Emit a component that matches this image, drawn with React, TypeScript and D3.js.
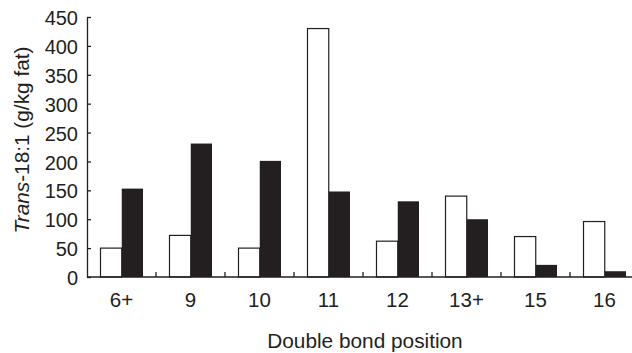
import React, { useEffect, useRef } from "react";
import * as d3 from "d3";

const positions = ["6+", "9", "10", "11", "12", "13+", "15", "16"];
const openValues = [50, 72, 50, 430, 62, 140, 70, 96];
const filledValues = [153, 231, 201, 148, 131, 100, 21, 10];
const yTicks = [0, 50, 100, 150, 200, 250, 300, 350, 400, 450];

const W = 632;
const H = 353;
const ink = "#231f20";
const font = "'Liberation Sans', Arial, sans-serif";

export default function App() {
  const ref = useRef<SVGSVGElement>(null);

  useEffect(() => {
    const svg = d3.select(ref.current);
    svg.selectAll("*").remove();

    const left = 87;
    const x = d3.scaleBand().domain(positions).range([left, left + 8 * 69]).padding(0);
    const inner = d3.scaleBand().domain(["open", "filled"]).range([13.5, 56]).padding(0);
    const y = d3.scaleLinear().domain([0, 450]).range([277, 17]);

    const rows = positions.map((p, i) => ({ p, open: openValues[i], filled: filledValues[i] }));

    // bars
    const groups = svg.append("g")
      .selectAll("g")
      .data(rows)
      .enter()
      .append("g")
      .attr("transform", (d) => `translate(${x(d.p)},0)`);

    groups.append("rect")
      .attr("x", inner("open")!)
      .attr("width", inner.bandwidth())
      .attr("y", (d) => y(d.open))
      .attr("height", (d) => y(0) - y(d.open))
      .attr("fill", "#fff")
      .attr("stroke", ink)
      .attr("stroke-width", 1.2);

    groups.append("rect")
      .attr("x", inner("filled")!)
      .attr("width", inner.bandwidth())
      .attr("y", (d) => y(d.filled))
      .attr("height", (d) => y(0) - y(d.filled))
      .attr("fill", ink);

    // y axis
    const yAxis = svg.append("g")
      .attr("transform", `translate(${left},0)`)
      .call(d3.axisLeft(y).tickValues(yTicks).tickSize(-4).tickSizeOuter(0).tickPadding(9));
    yAxis.select(".domain").attr("stroke", ink).attr("stroke-width", 1.3);
    yAxis.selectAll(".tick line").attr("stroke", ink).attr("stroke-width", 1.3);
    yAxis.selectAll(".tick text")
      .attr("fill", ink)
      .attr("font-size", 20)
      .attr("font-family", font)
      .attr("dy", "0.38em");

    // x axis: line plus ticks between groups
    const xg = svg.append("g");
    xg.append("line")
      .attr("x1", left).attr("x2", W)
      .attr("y1", y(0)).attr("y2", y(0))
      .attr("stroke", ink).attr("stroke-width", 1.3);
    xg.selectAll("line.sep")
      .data(positions.slice(1))
      .enter()
      .append("line")
      .attr("class", "sep")
      .attr("x1", (d) => x(d)!).attr("x2", (d) => x(d)!)
      .attr("y1", y(0)).attr("y2", y(0) - 5)
      .attr("stroke", ink).attr("stroke-width", 1.3);
    xg.selectAll("text")
      .data(positions)
      .enter()
      .append("text")
      .attr("x", (d) => x(d)! + 34.5)
      .attr("y", 307)
      .attr("text-anchor", "middle")
      .attr("fill", ink)
      .attr("font-size", 20.5)
      .attr("font-family", font)
      .text((d) => d);

    // axis titles
    svg.append("text")
      .attr("x", 365)
      .attr("y", 348)
      .attr("text-anchor", "middle")
      .attr("fill", ink)
      .attr("font-size", 20.8)
      .attr("font-family", font)
      .text("Double bond position");

    const yt = svg.append("text")
      .attr("transform", "translate(29,140) rotate(-90)")
      .attr("text-anchor", "middle")
      .attr("fill", ink)
      .attr("font-size", 20.8)
      .attr("font-family", font);
    yt.append("tspan").attr("font-style", "italic").text("Trans");
    yt.append("tspan").text("-18:1 (g/kg fat)");
  }, []);

  return (
    <div style={{ position: "absolute", left: 0, top: 0 }}>
      <svg ref={ref} width={W} height={H} style={{ display: "block", background: "#fff" }} />
    </div>
  );
}
